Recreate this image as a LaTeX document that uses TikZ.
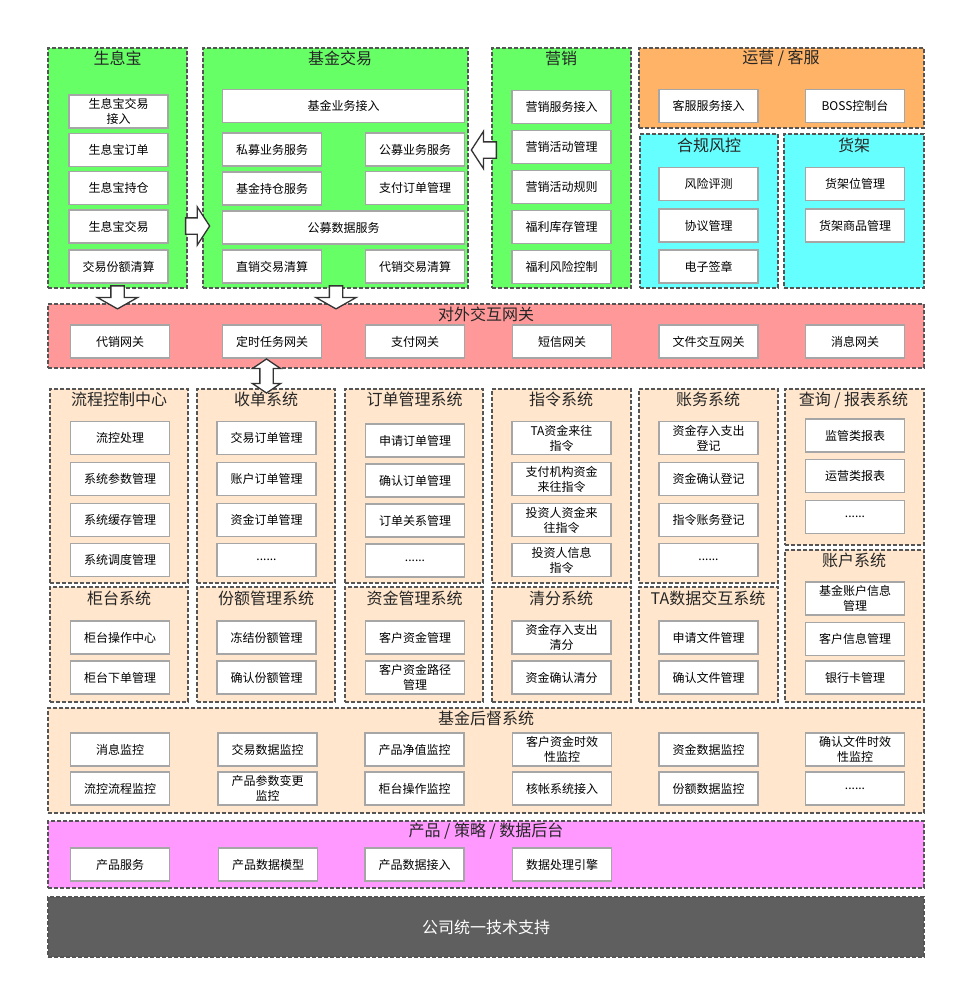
\documentclass[tikz,border=0pt]{standalone}
\usepackage{fontspec}
\setmainfont{Noto Sans CJK SC}
\usepackage{xcolor}
\usetikzlibrary{positioning,calc}
\usetikzlibrary{shapes.arrows}

\definecolor{sxgreen}{HTML}{66FF66}
\definecolor{yyorange}{HTML}{FFB366}
\definecolor{hgcyan}{HTML}{66FFFF}
\definecolor{gwpink}{HTML}{FF9999}
\definecolor{syspeach}{HTML}{FFE6CC}
\definecolor{cpmagenta}{HTML}{FF99FF}
\definecolor{jsdark}{HTML}{5F5F5F}
\definecolor{dashgray}{HTML}{555555}
\definecolor{boxgray}{HTML}{A6A6A6}
\definecolor{arrowgray}{HTML}{333333}

\tikzset{
  group/.style={draw=dashgray, dash pattern=on 4pt off 2pt, line width=1.2pt, inner sep=0pt},
  title/.style={font=\fontsize{16}{18}\selectfont, text=black!85, inner sep=1pt},
  box/.style={draw=boxgray, line width=1.8pt, fill=white, minimum width=99pt, minimum height=33pt,
    inner sep=1pt, align=center, font=\fontsize{12}{15}\selectfont},
  widebox/.style={box, minimum width=242pt},
  fatarrow/.style={single arrow, draw=arrowgray, line width=1.3pt, fill=white},
  dblarrow/.style={double arrow, draw=arrowgray, line width=1.3pt, fill=white}
}

\begin{document}
\begin{tikzpicture}[x=1pt, y=-1pt]
        \useasboundingbox (0,0) rectangle (956,989);
        % containers
        \node[group, fill=sxgreen, minimum width=139pt, minimum height=240pt] (sxb) at (117.5,168) {};
        \node[group, fill=sxgreen, minimum width=265pt, minimum height=240pt] (jjjy) at (335.5,168) {};
        \node[group, fill=sxgreen, minimum width=139pt, minimum height=240pt] (yx) at (561.5,168) {};
        \node[group, fill=yyorange, minimum width=285pt, minimum height=80pt] (yy) at (781.5,88) {};
        \node[group, fill=hgcyan, minimum width=138pt, minimum height=154pt] (hg) at (709,211) {};
        \node[group, fill=hgcyan, minimum width=140pt, minimum height=154pt] (hj) at (854,211) {};
        \node[group, fill=gwpink, minimum width=876pt, minimum height=64pt] (gw) at (486,336) {};
        \node[group, fill=syspeach, minimum width=138pt, minimum height=194pt] (lc) at (119,486) {};
        \node[group, fill=syspeach, minimum width=138pt, minimum height=194pt] (sd) at (266,486) {};
        \node[group, fill=syspeach, minimum width=138pt, minimum height=194pt] (dd) at (414,486) {};
        \node[group, fill=syspeach, minimum width=139pt, minimum height=194pt] (zl) at (561.5,486) {};
        \node[group, fill=syspeach, minimum width=139pt, minimum height=194pt] (zw) at (708.5,486) {};
        \node[group, fill=syspeach, minimum width=139pt, minimum height=156pt] (cx) at (854.5,467) {};
        \node[group, fill=syspeach, minimum width=138pt, minimum height=115pt] (gt) at (119,644.5) {};
        \node[group, fill=syspeach, minimum width=138pt, minimum height=115pt] (fe) at (266,644.5) {};
        \node[group, fill=syspeach, minimum width=138pt, minimum height=115pt] (zj) at (414,644.5) {};
        \node[group, fill=syspeach, minimum width=139pt, minimum height=115pt] (qf) at (561.5,644.5) {};
        \node[group, fill=syspeach, minimum width=139pt, minimum height=115pt] (ta) at (708.5,644.5) {};
        \node[group, fill=syspeach, minimum width=139pt, minimum height=152pt] (zh) at (854.5,626) {};
        \node[group, fill=syspeach, minimum width=876pt, minimum height=105pt] (hd) at (486,760.5) {};
        \node[group, fill=cpmagenta, minimum width=876pt, minimum height=67pt] (cp) at (486,854.5) {};
        \node[group, fill=jsdark, minimum width=876pt, minimum height=60pt] (js) at (486,927) {};

        % titles
        \node[title] (sxbT) at (117.5,58) {生息宝};
        \node[title] (jjjyT) at (340,58) {基金交易};
        \node[title] (yxT) at (561,58) {营销};
        \node[title] (yyT) at (781,58) {运营 / 客服};
        \node[title] (hgT) at (709,145) {合规风控};
        \node[title] (hjT) at (854,145) {货架};
        \node[title] (gwT) at (486,314) {对外交互网关};
        \node[title] (lcT) at (119,399) {流程控制中心};
        \node[title] (sdT) at (266,399) {收单系统};
        \node[title] (ddT) at (414.5,399) {订单管理系统};
        \node[title] (zlT) at (561,399) {指令系统};
        \node[title] (zwT) at (708,399) {账务系统};
        \node[title] (cxT) at (853.5,400) {查询 / 报表系统};
        \node[title] (gtT) at (119,598) {柜台系统};
        \node[title] (feT) at (266,598) {份额管理系统};
        \node[title] (zjT) at (414.5,598) {资金管理系统};
        \node[title] (qfT) at (561,598) {清分系统};
        \node[title] (taT) at (708,598) {TA数据交互系统};
        \node[title] (zhT) at (854,560) {账户系统};
        \node[title] (hdT) at (486,718) {基金后督系统};
        \node[title] (cpT) at (486,831) {产品 / 策略 / 数据后台};
        \node[title, text=white] (jsT) at (486,927) {公司统一技术支持};

        % 生息宝
        \node[box] (sxb1) at (118.5,111.5) {生息宝交易\\接入};
        \node[box] (sxb2) at (118.5,150) {生息宝订单};
        \node[box] (sxb3) at (118.5,188) {生息宝持仓};
        \node[box] (sxb4) at (118.5,226.5) {生息宝交易};
        \node[box] (sxb5) at (118.5,266.5) {交易份额清算};
        % 基金交易
        \node[widebox] (jj1) at (343.5,106) {基金业务接入};
        \node[box] (jj2) at (272,149.5) {私募业务服务};
        \node[box] (jj3) at (415,149.5) {公募业务服务};
        \node[box] (jj4) at (272,188.5) {基金持仓服务};
        \node[box] (jj5) at (415,188) {支付订单管理};
        \node[widebox] (jj6) at (343.5,227.5) {公募数据服务};
        \node[box] (jj7) at (272,266.5) {直销交易清算};
        \node[box] (jj8) at (415,266.5) {代销交易清算};
        % 营销
        \node[box] (yx1) at (561.5,107) {营销服务接入};
        \node[box] (yx2) at (561.5,147) {营销活动管理};
        \node[box] (yx3) at (561.5,187) {营销活动规则};
        \node[box] (yx4) at (561.5,227) {福利库存管理};
        \node[box] (yx5) at (561.5,267) {福利风险控制};
        % 运营 / 合规 / 货架
        \node[box] (yy1) at (708.5,106) {客服服务接入};
        \node[box] (yy2) at (855,106) {BOSS控制台};
        \node[box] (hg1) at (708.5,184) {风险评测};
        \node[box] (hg2) at (708.5,225.5) {协议管理};
        \node[box] (hg3) at (708.5,266.5) {电子签章};
        \node[box] (hj1) at (855,184) {货架位管理};
        \node[box] (hj2) at (855,225.5) {货架商品管理};
        % 网关
        \node[box] (gw1) at (120,341.5) {代销网关};
        \node[box] (gw2) at (272,341.5) {定时任务网关};
        \node[box] (gw3) at (415,341.5) {支付网关};
        \node[box] (gw4) at (562,341.5) {短信网关};
        \node[box] (gw5) at (708.5,341.5) {文件交互网关};
        \node[box] (gw6) at (855,341.5) {消息网关};
        % 流程控制中心
        \node[box] (lc1) at (120,438) {流控处理};
        \node[box] (lc2) at (120,479) {系统参数管理};
        \node[box] (lc3) at (120,520) {系统缓存管理};
        \node[box] (lc4) at (120,560) {系统调度管理};
        % 收单系统
        \node[box] (sd1) at (266.5,438) {交易订单管理};
        \node[box] (sd2) at (266.5,479) {账户订单管理};
        \node[box] (sd3) at (266.5,520) {资金订单管理};
        \node[box] (sd4) at (266.5,560) {......};
        % 订单管理系统
        \node[box] (dd1) at (415,440.5) {申请订单管理};
        \node[box] (dd2) at (415,480.5) {确认订单管理};
        \node[box] (dd3) at (415,520.5) {订单关系管理};
        \node[box] (dd4) at (415,560.5) {......};
        % 指令系统
        \node[box] (zl1) at (561.5,438) {TA资金来往\\指令};
        \node[box] (zl2) at (561.5,479) {支付机构资金\\来往指令};
        \node[box] (zl3) at (561.5,520) {投资人资金来\\往指令};
        \node[box] (zl4) at (561.5,560) {投资人信息\\指令};
        % 账务系统
        \node[box] (zw1) at (708.5,438) {资金存入支出\\登记};
        \node[box] (zw2) at (708.5,479) {资金确认登记};
        \node[box] (zw3) at (708.5,520) {指令账务登记};
        \node[box] (zw4) at (708.5,560) {......};
        % 查询 / 报表系统
        \node[box] (cx1) at (855,435.5) {监管类报表};
        \node[box] (cx2) at (855,476) {运营类报表};
        \node[box] (cx3) at (855,517) {......};
        % 第二排
        \node[box] (gt1) at (120,637.5) {柜台操作中心};
        \node[box] (gt2) at (120,677.5) {柜台下单管理};
        \node[box] (fe1) at (266.5,637.5) {冻结份额管理};
        \node[box] (fe2) at (266.5,677.5) {确认份额管理};
        \node[box] (zj1) at (415,637.5) {客户资金管理};
        \node[box] (zj2) at (415,677.5) {客户资金路径\\管理};
        \node[box] (qf1) at (561.5,637.5) {资金存入支出\\清分};
        \node[box] (qf2) at (561.5,677.5) {资金确认清分};
        \node[box] (ta1) at (708.5,637.5) {申请文件管理};
        \node[box] (ta2) at (708.5,677.5) {确认文件管理};
        \node[box] (zh1) at (855,598.5) {基金账户信息\\管理};
        \node[box] (zh2) at (855,639) {客户信息管理};
        \node[box] (zh3) at (855,677.5) {银行卡管理};
        % 基金后督系统
        \node[box] (hd1) at (120,749.5) {消息监控};
        \node[box] (hd2) at (267.5,749.5) {交易数据监控};
        \node[box] (hd3) at (414.5,749.5) {产品净值监控};
        \node[box] (hd4) at (562,749.5) {客户资金时效\\性监控};
        \node[box] (hd5) at (708.5,749.5) {资金数据监控};
        \node[box] (hd6) at (855,749.5) {确认文件时效\\性监控};
        \node[box] (hd7) at (120,788.5) {流控流程监控};
        \node[box] (hd8) at (267.5,788.5) {产品参数变更\\监控};
        \node[box] (hd9) at (414.5,788.5) {柜台操作监控};
        \node[box] (hd10) at (562,788.5) {核帐系统接入};
        \node[box] (hd11) at (708.5,788.5) {份额数据监控};
        \node[box] (hd12) at (855,788.5) {......};
        % 产品 / 策略 / 数据后台
        \node[box] (cp1) at (120,864.5) {产品服务};
        \node[box] (cp2) at (268,864.5) {产品数据模型};
        \node[box] (cp3) at (414.5,864.5) {产品数据接入};
        \node[box] (cp4) at (562,864.5) {数据处理引擎};

        % block arrows
        \node[fatarrow, minimum height=24pt, inner sep=7.5pt, single arrow head extend=11pt,
              single arrow tip angle=114] (sxb2jj) at (195,226) {};
        \node[fatarrow, minimum height=25pt, inner sep=7.5pt, single arrow head extend=10.5pt,
              single arrow tip angle=114, shape border rotate=180] (yx2jj) at (486.5,150) {};
        \node[fatarrow, minimum height=23pt, inner sep=6pt, single arrow head extend=13.5pt,
              single arrow tip angle=121, shape border rotate=270] (sxb2gw) at (117.5,295.5) {};
        \node[fatarrow, minimum height=23pt, inner sep=6pt, single arrow head extend=13.5pt,
              single arrow tip angle=121, shape border rotate=270] (jj2gw) at (336,295.5) {};
        \node[dblarrow, minimum height=34pt, inner sep=6pt, double arrow head extend=7.5pt,
              double arrow tip angle=112, shape border rotate=90] (gw2sd) at (266.5,376) {};
    \end{tikzpicture}
\end{document}
